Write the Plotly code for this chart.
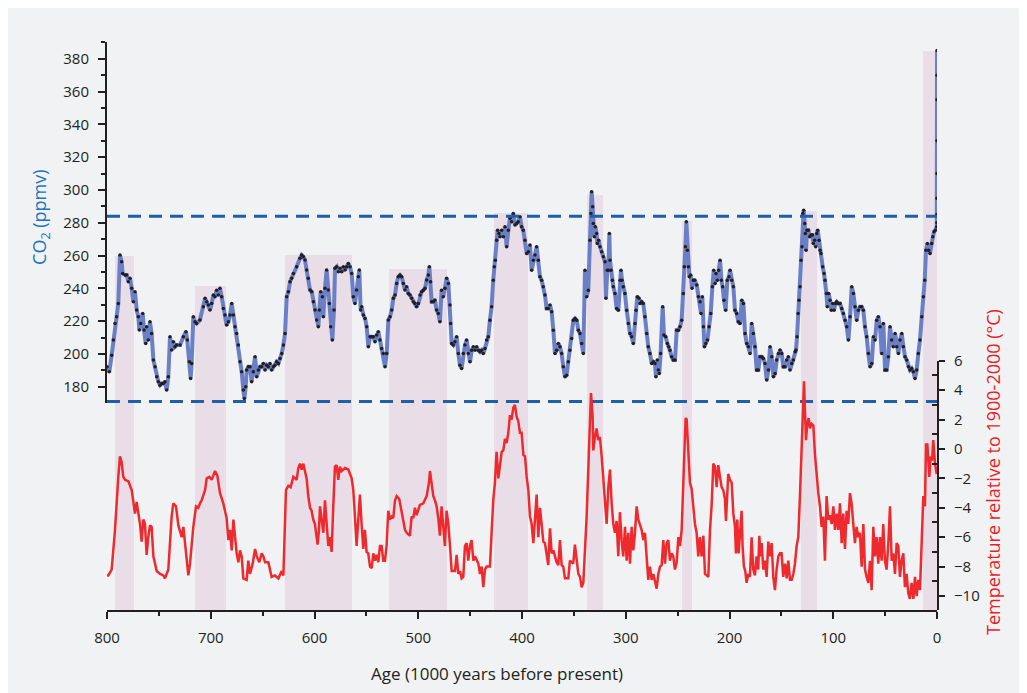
import plotly.graph_objects as go

# CO2 record (ppmv) against age (kyr before present)
co2_age = [800.0, 797.8, 795.5, 793.9, 792.3, 790.7, 789.1, 787.5, 785.9, 784.9, 782.6, 781.0, 779.4, 777.8, 776.2,
           774.6, 773.0, 771.4, 769.8, 768.8, 767.5, 765.6, 764.3, 762.7, 761.8, 760.2, 758.6, 757.0, 755.3, 753.7,
           752.1, 750.5, 748.9, 747.3, 745.7, 744.1, 742.5, 740.9, 739.3, 737.7, 736.1, 734.5, 732.9, 729.6, 726.4,
           723.9, 722.6, 720.6, 719.4, 718.4, 716.8, 715.2, 713.6, 710.4, 707.1, 705.5, 703.9, 702.3, 700.7, 699.1,
           697.5, 695.9, 694.3, 692.7, 691.1, 689.5, 687.9, 686.3, 684.7, 683.0, 681.4, 679.8, 678.2, 676.6, 675.0,
           673.4, 671.8, 670.2, 668.6, 667.6, 666.3, 665.4, 663.8, 662.2, 660.6, 659.0, 657.3, 655.7, 654.1, 652.5,
           650.9, 649.3, 647.7, 646.1, 644.5, 642.9, 641.3, 639.7, 638.1, 636.5, 634.8, 633.2, 631.6, 630.0, 628.4,
           626.8, 625.2, 623.6, 622.0, 620.4, 617.2, 614.0, 612.4, 610.8, 609.2, 607.6, 606.0, 604.3, 602.7, 601.1,
           599.5, 597.9, 596.3, 595.3, 594.0, 592.4, 591.5, 589.9, 588.3, 586.7, 585.7, 584.4, 582.8, 581.2, 580.2,
           578.6, 577.0, 575.4, 573.8, 572.2, 570.6, 569.0, 567.4, 565.8, 564.2, 562.6, 561.0, 559.4, 557.7, 556.8,
           555.5, 554.5, 552.9, 551.3, 549.7, 548.1, 546.5, 544.9, 543.3, 541.7, 540.1, 538.5, 536.9, 535.3, 533.7,
           532.0, 530.4, 528.8, 527.2, 525.6, 524.0, 522.4, 520.8, 519.2, 517.6, 516.0, 514.4, 512.8, 511.2, 509.6,
           508.0, 506.4, 504.8, 503.2, 501.6, 499.9, 498.3, 496.7, 495.1, 493.5, 491.9, 490.3, 489.3, 488.1, 487.1,
           485.5, 483.9, 482.3, 480.7, 479.1, 477.5, 475.9, 474.2, 472.6, 471.0, 469.4, 468.8, 467.8, 466.2, 464.6,
           463.0, 461.4, 459.8, 458.2, 456.6, 455.0, 453.4, 451.8, 450.1, 448.5, 446.9, 445.3, 443.7, 442.1, 440.5,
           438.9, 437.3, 435.7, 434.1, 432.5, 430.9, 429.3, 427.7, 426.7, 425.7, 424.4, 423.5, 422.2, 421.2, 419.6,
           418.0, 416.4, 414.8, 413.2, 411.6, 410.0, 408.4, 406.8, 405.2, 403.6, 402.0, 400.4, 398.8, 397.1, 395.5,
           393.9, 392.3, 390.7, 389.1, 387.5, 385.9, 384.3, 382.7, 381.1, 379.5, 377.9, 376.3, 374.6, 373.0, 371.4,
           369.8, 368.2, 366.6, 365.0, 363.4, 361.8, 360.2, 358.6, 357.0, 355.4, 353.8, 352.1, 350.5, 348.9, 347.3,
           345.7, 344.1, 342.5, 340.9, 339.3, 337.7, 336.1, 334.5, 333.5, 332.9, 331.9, 331.3, 330.3, 329.3, 328.1,
           327.4, 326.1, 324.8, 323.2, 321.6, 320.0, 319.1, 317.8, 316.8, 315.8, 315.2, 314.2, 312.9, 312.0, 310.4,
           308.8, 307.1, 305.5, 304.6, 303.6, 302.4, 300.8, 299.1, 297.5, 295.9, 294.3, 292.7, 291.1, 290.1, 288.9,
           287.3, 286.3, 284.7, 283.1, 281.5, 279.9, 278.3, 276.7, 275.0, 273.4, 271.8, 270.9, 269.6, 268.6, 267.7,
           266.4, 264.4, 263.2, 261.5, 259.9, 258.6, 257.4, 255.8, 254.2, 252.5, 250.9, 249.3, 247.7, 246.1, 244.5,
           243.5, 242.5, 241.6, 240.6, 239.6, 238.7, 237.4, 236.1, 234.8, 233.5, 231.6, 230.0, 228.4, 227.4, 226.2,
           225.2, 224.2, 222.9, 221.3, 219.7, 218.1, 216.5, 215.2, 213.9, 213.0, 211.7, 210.4, 209.1, 207.8, 206.6,
           205.3, 203.7, 202.1, 200.5, 199.5, 197.9, 196.3, 194.7, 193.1, 191.5, 189.8, 188.2, 186.6, 185.0, 183.4,
           181.8, 180.2, 178.6, 177.0, 175.4, 173.8, 172.2, 170.6, 168.9, 167.4, 165.8, 164.1, 162.5, 160.9, 159.3,
           157.7, 156.1, 154.5, 152.9, 151.3, 149.7, 148.1, 146.5, 144.9, 143.3, 141.7, 140.0, 138.4, 136.8, 135.9,
           134.9, 133.9, 133.0, 132.0, 131.0, 130.1, 129.4, 128.5, 127.5, 126.9, 126.2, 125.3, 124.0, 122.7, 121.4,
           120.1, 119.2, 117.9, 116.9, 115.9, 115.0, 113.7, 112.7, 111.8, 110.2, 108.9, 107.9, 106.6, 105.7, 104.4,
           103.1, 101.8, 100.5, 99.2, 97.9, 96.7, 95.1, 93.5, 91.9, 90.2, 88.6, 87.0, 85.4, 83.8, 82.2,
           80.6, 79.0, 77.4, 75.8, 74.2, 72.6, 71.0, 69.4, 67.8, 66.2, 64.5, 62.9, 61.3, 59.7, 58.1,
           56.5, 54.9, 53.3, 51.7, 50.1, 48.5, 46.9, 45.3, 43.7, 42.1, 40.4, 38.8, 37.2, 35.6, 34.0,
           32.4, 30.8, 29.2, 27.6, 26.0, 24.4, 22.8, 21.2, 19.6, 18.0, 16.4, 14.7, 13.1, 11.8, 10.6,
           9.3, 8.0, 6.7, 5.1, 4.1, 2.9, 1.6, 0.3, 0.2, 0.15, 0.1, 0.07, 0.05, 0.03, 0.0, -0.05]
co2_ppmv = [192.2, 189.1, 199.3, 208.5, 218.6, 222.7, 230.8, 260.3, 256.2, 249.1, 248.1, 248.1, 244.0, 246.1, 240.0,
            231.8, 237.9, 226.8, 222.7, 214.6, 218.6, 224.7, 214.6, 206.4, 216.6, 208.5, 219.6, 212.5, 196.3, 192.2,
            186.1, 183.1, 181.0, 182.0, 182.0, 183.1, 178.0, 186.1, 210.5, 202.4, 207.5, 204.4, 205.4, 205.4, 210.5,
            213.6, 208.5, 195.3, 185.1, 194.2, 222.7, 219.6, 218.6, 220.7, 228.8, 233.9, 231.8, 229.8, 226.8, 230.8,
            235.9, 234.9, 238.9, 235.9, 240.0, 234.9, 227.8, 223.7, 217.6, 219.6, 223.7, 230.8, 223.7, 216.6, 212.5,
            205.4, 195.3, 189.2, 178.0, 172.9, 180.0, 190.2, 192.2, 192.2, 183.1, 189.2, 198.3, 186.1, 190.2, 192.2,
            192.2, 194.2, 190.2, 193.2, 192.2, 194.2, 190.2, 192.2, 193.2, 195.3, 194.2, 197.3, 200.3, 205.4, 212.5,
            234.9, 237.9, 244.0, 246.1, 249.1, 253.2, 258.3, 260.3, 259.3, 257.3, 251.2, 246.1, 239.0, 237.9, 231.8,
            226.8, 220.7, 216.6, 226.8, 237.9, 234.9, 222.7, 240.0, 251.2, 239.0, 230.8, 216.6, 208.5, 226.8, 252.2,
            253.2, 250.1, 252.2, 250.1, 253.2, 251.2, 253.2, 255.2, 253.2, 249.1, 234.9, 230.8, 239.0, 247.1, 251.2,
            226.8, 228.8, 223.7, 221.7, 216.6, 204.4, 210.5, 210.5, 210.5, 207.5, 211.5, 213.6, 208.5, 203.4, 200.3,
            192.2, 200.3, 220.7, 222.7, 226.8, 233.9, 235.9, 243.0, 247.1, 248.1, 247.1, 243.0, 239.0, 241.0, 236.9,
            235.9, 233.9, 231.8, 230.8, 228.8, 230.8, 235.9, 237.9, 238.9, 240.0, 245.1, 248.1, 253.2, 244.0, 231.8,
            231.8, 232.9, 226.8, 224.7, 219.6, 238.9, 234.9, 240.0, 246.1, 243.0, 229.8, 218.6, 206.4, 205.4, 207.4,
            210.5, 200.3, 193.2, 191.2, 200.3, 205.4, 208.5, 200.3, 195.2, 202.3, 204.4, 202.3, 204.4, 202.3, 201.3,
            202.3, 200.3, 203.4, 208.5, 210.5, 220.6, 228.8, 245.0, 253.2, 257.2, 269.4, 275.5, 273.5, 271.5, 275.5,
            271.5, 277.6, 265.4, 275.5, 282.7, 280.6, 285.7, 278.6, 279.6, 280.6, 283.7, 277.6, 275.5, 269.4, 261.3,
            262.3, 266.4, 251.1, 257.2, 260.3, 265.4, 257.2, 247.1, 245.0, 241.0, 235.9, 227.8, 227.8, 229.8, 225.7,
            214.5, 200.3, 202.3, 206.4, 204.4, 200.3, 192.2, 186.1, 187.1, 195.2, 202.3, 209.5, 220.6, 221.7, 220.6,
            214.5, 212.5, 206.4, 200.3, 251.1, 234.9, 238.9, 269.4, 285.7, 298.9, 289.8, 279.6, 271.5, 277.6, 273.5,
            267.4, 269.4, 265.4, 262.3, 259.3, 256.2, 233.9, 251.1, 251.1, 273.5, 257.2, 251.1, 245.0, 241.0, 236.9,
            227.8, 226.7, 245.0, 251.1, 245.0, 241.0, 236.9, 226.7, 218.6, 212.5, 210.5, 206.4, 218.6, 226.7, 234.9,
            233.9, 230.8, 231.8, 230.8, 222.7, 212.5, 204.4, 200.3, 194.2, 195.2, 194.2, 186.1, 196.3, 190.2, 188.1,
            200.3, 228.8, 211.5, 210.5, 206.4, 204.4, 202.3, 198.3, 196.3, 196.3, 214.5, 214.5, 216.6, 220.6, 236.9,
            253.2, 265.4, 280.6, 263.3, 253.2, 247.1, 248.1, 240.0, 245.0, 245.0, 242.0, 234.9, 231.8, 224.7, 234.9,
            216.6, 204.4, 206.4, 208.5, 216.6, 224.7, 241.0, 251.1, 243.0, 249.1, 245.0, 251.1, 257.2, 245.0, 241.0,
            232.8, 226.7, 245.0, 247.1, 251.1, 245.0, 241.0, 226.7, 224.7, 219.6, 218.6, 232.8, 230.8, 212.5, 206.4,
            204.4, 200.3, 218.6, 212.5, 204.4, 190.2, 190.2, 198.3, 198.3, 197.3, 194.2, 184.1, 190.2, 204.4, 198.3,
            186.1, 188.1, 196.3, 200.3, 202.4, 200.3, 192.2, 192.2, 196.3, 198.3, 190.2, 194.2, 196.3, 201.3, 202.4,
            210.5, 224.7, 232.8, 241.0, 257.2, 265.4, 285.7, 287.7, 279.6, 273.5, 263.3, 275.5, 275.5, 271.5, 272.5,
            272.5, 267.4, 269.4, 265.4, 273.5, 275.5, 269.4, 263.3, 261.3, 253.2, 249.1, 245.0, 236.9, 228.8, 236.9,
            232.8, 226.7, 230.8, 226.7, 230.8, 231.8, 230.8, 230.8, 227.8, 224.7, 220.6, 216.6, 208.5, 222.7, 241.0,
            236.9, 228.8, 220.6, 226.7, 228.8, 228.8, 226.7, 216.6, 210.5, 200.3, 192.2, 194.2, 210.5, 208.5, 220.6,
            222.7, 216.6, 200.3, 218.6, 190.2, 190.2, 198.3, 216.6, 208.5, 204.4, 212.5, 204.4, 200.3, 208.5, 212.5,
            204.4, 198.3, 196.3, 192.2, 190.2, 191.2, 189.1, 185.1, 190.2, 200.3, 208.5, 222.7, 234.9, 245.0, 263.3,
            267.4, 263.3, 261.3, 267.4, 271.5, 274.5, 275.5, 277.6, 280.0, 285.0, 295.0, 310.0, 330.0, 355.0, 370.0, 385.0]

# temperature anomaly (degC, relative to 1900-2000)
temp_age = [800.0, 798.7, 795.5, 792.3, 789.1, 787.5, 785.9, 784.3, 782.6, 779.4, 776.2, 774.6, 773.0, 771.4, 769.8,
            768.2, 766.6, 765.0, 763.4, 761.8, 760.2, 758.6, 757.0, 755.3, 752.1, 748.9, 745.7, 744.1, 740.9, 739.3,
            737.7, 736.1, 733.5, 731.2, 728.0, 726.4, 723.9, 721.6, 720.0, 718.4, 716.8, 714.2, 712.0, 710.4, 708.8,
            705.5, 703.9, 701.4, 699.1, 695.9, 693.7, 691.1, 687.9, 684.7, 683.0, 681.4, 679.8, 678.2, 676.6, 675.0,
            673.4, 671.8, 670.2, 668.6, 665.4, 663.8, 662.2, 659.6, 657.3, 655.7, 653.2, 650.9, 649.3, 647.7, 644.5,
            641.3, 638.1, 634.8, 631.6, 630.0, 627.5, 625.2, 623.0, 620.4, 617.2, 615.6, 614.0, 612.4, 610.8, 609.2,
            607.6, 606.0, 604.3, 602.8, 601.2, 599.6, 597.0, 595.7, 594.7, 593.1, 591.5, 589.9, 588.3, 586.7, 585.1,
            583.5, 581.9, 580.3, 578.7, 577.1, 575.5, 573.9, 570.6, 567.4, 564.2, 562.6, 561.0, 559.4, 557.8, 556.2,
            554.6, 553.0, 551.4, 549.8, 548.2, 546.5, 544.9, 543.3, 541.7, 540.1, 538.5, 536.9, 535.3, 533.7, 532.1,
            530.5, 528.9, 527.3, 525.7, 524.1, 522.4, 520.8, 518.3, 516.0, 514.4, 512.8, 511.2, 508.0, 506.4, 504.8,
            503.2, 501.6, 498.4, 495.1, 491.9, 489.7, 488.7, 487.1, 485.5, 483.9, 482.3, 480.7, 479.1, 477.5, 475.9,
            474.3, 472.7, 471.0, 469.4, 467.8, 464.6, 463.0, 461.4, 459.8, 458.2, 456.6, 455.0, 453.4, 451.8, 450.2,
            448.6, 446.9, 445.3, 443.7, 442.1, 440.5, 438.9, 437.3, 435.7, 434.1, 430.9, 429.3, 427.7, 426.1, 424.5,
            422.8, 421.2, 419.6, 418.0, 416.4, 414.8, 413.2, 411.6, 410.0, 408.4, 406.8, 405.2, 403.6, 402.0, 400.4,
            398.7, 397.1, 395.5, 393.9, 392.3, 390.7, 389.1, 387.5, 385.9, 384.3, 382.7, 381.1, 379.5, 377.9, 376.3,
            374.7, 373.0, 371.4, 369.8, 368.2, 366.6, 365.0, 363.4, 361.8, 360.2, 358.6, 355.4, 353.8, 352.2, 350.6,
            349.0, 347.3, 345.7, 344.1, 342.5, 340.9, 339.3, 337.7, 336.1, 334.5, 333.5, 331.9, 331.3, 329.7, 328.1,
            326.5, 324.9, 323.2, 321.6, 320.0, 318.4, 316.8, 315.2, 313.6, 312.0, 310.4, 308.8, 307.2, 305.6, 304.0,
            302.4, 300.7, 299.1, 297.5, 295.9, 294.3, 292.7, 291.1, 289.5, 287.9, 286.3, 284.7, 283.1, 281.5, 279.9,
            278.3, 276.7, 275.0, 273.4, 271.8, 270.2, 268.6, 267.0, 265.4, 263.8, 262.2, 260.6, 259.0, 257.4, 255.8,
            254.2, 252.6, 250.9, 249.3, 247.7, 246.1, 244.5, 242.3, 241.3, 239.7, 238.1, 236.5, 234.9, 233.3, 231.7,
            230.1, 228.5, 226.9, 225.2, 223.6, 222.0, 220.4, 218.8, 217.2, 215.6, 214.0, 212.4, 210.8, 209.2, 207.6,
            206.0, 204.4, 203.4, 202.1, 201.2, 199.6, 197.9, 196.3, 194.7, 193.8, 192.5, 191.2, 189.9, 188.3, 187.4,
            186.1, 184.8, 183.5, 181.9, 180.3, 178.7, 177.1, 175.5, 173.9, 172.3, 171.3, 170.0, 169.0, 167.4, 165.8,
            164.2, 162.6, 161.0, 159.4, 157.8, 156.2, 154.6, 152.9, 151.4, 149.8, 148.2, 146.5, 144.9, 143.3, 141.7,
            140.1, 138.5, 136.9, 135.3, 133.7, 132.1, 130.5, 128.9, 128.2, 126.3, 125.0, 123.7, 122.4, 120.8, 119.2,
            117.6, 116.0, 114.4, 112.8, 111.2, 109.6, 108.0, 106.4, 104.8, 103.2, 101.5, 99.9, 98.3, 96.7, 95.1,
            93.5, 91.9, 90.3, 88.7, 87.1, 85.5, 83.9, 82.3, 80.7, 79.1, 77.5, 75.9, 74.3, 72.6, 71.0,
            69.4, 67.8, 66.2, 64.6, 63.0, 61.4, 59.8, 58.2, 56.6, 55.0, 53.4, 51.8, 50.2, 48.6, 46.9,
            45.3, 43.7, 42.1, 40.5, 38.9, 37.3, 35.7, 34.1, 32.5, 30.9, 29.3, 27.7, 26.1, 24.5, 22.8,
            21.2, 19.6, 18.0, 16.4, 14.8, 13.2, 11.6, 10.6, 9.3, 8.4, 7.4, 6.1, 4.8, 3.6, 1.9, 0.3]
temp_anom = [-8.6, -8.6, -8.2, -5.5, -1.9, -0.5, -0.9, -1.9, -2.1, -2.2, -2.8, -3.5, -4.4, -3.6, -4.4,
             -5.1, -6.3, -4.8, -5.1, -7.2, -6.0, -5.2, -5.3, -7.3, -8.3, -8.5, -8.6, -8.8, -8.2, -6.2,
             -4.6, -3.7, -3.9, -5.2, -6.0, -5.3, -6.9, -8.6, -7.8, -6.4, -5.3, -3.9, -4.0, -3.7, -3.5,
             -2.8, -2.0, -1.9, -2.1, -1.5, -1.8, -3.0, -3.7, -4.7, -6.2, -5.5, -6.9, -4.8, -6.0, -7.1,
             -7.7, -6.9, -7.3, -8.8, -8.9, -7.6, -8.5, -7.8, -6.8, -7.3, -7.7, -7.1, -7.3, -7.7, -7.7,
             -8.7, -8.6, -8.8, -8.3, -8.6, -2.8, -2.5, -2.6, -1.9, -2.1, -1.3, -1.0, -1.4, -1.0, -1.5,
             -2.0, -3.2, -4.0, -4.2, -4.8, -5.1, -6.5, -5.5, -3.9, -4.8, -5.7, -3.5, -5.1, -6.6, -6.0,
             -7.0, -3.9, -1.2, -1.1, -2.1, -1.2, -1.5, -1.3, -1.4, -2.0, -2.8, -4.6, -6.6, -4.8, -3.1,
             -5.1, -6.8, -5.5, -7.0, -7.1, -8.0, -8.1, -7.1, -7.6, -7.2, -7.7, -6.6, -6.6, -7.6, -7.6,
             -6.6, -4.2, -4.8, -4.6, -4.7, -3.5, -3.2, -3.4, -4.4, -4.9, -5.5, -5.7, -5.9, -4.6, -4.7,
             -4.0, -4.5, -3.8, -3.7, -3.2, -2.3, -1.5, -2.3, -3.2, -3.5, -3.9, -4.7, -5.9, -3.9, -5.1,
             -6.6, -4.2, -5.1, -6.6, -8.3, -8.3, -7.2, -8.5, -8.3, -8.8, -8.7, -6.6, -6.4, -7.6, -6.6,
             -6.2, -7.6, -7.3, -7.6, -7.8, -8.5, -8.0, -9.4, -8.2, -8.0, -8.0, -5.7, -3.5, -2.3, -0.2,
             -2.0, -1.0, -0.2, -0.1, 0.7, 0.4, 1.1, 2.3, 2.0, 2.8, 3.0, 2.2, 1.9, 1.1, 1.1,
             -0.4, -0.5, -1.9, -2.8, -4.6, -5.1, -6.4, -4.6, -3.1, -6.0, -4.0, -5.1, -6.3, -6.4, -7.1,
             -7.9, -5.4, -7.1, -6.9, -7.3, -7.7, -7.9, -6.2, -7.9, -8.0, -8.8, -8.8, -7.6, -7.7, -7.8,
             -6.5, -7.6, -8.5, -8.7, -9.4, -9.1, -6.9, -4.6, -1.4, 2.6, 3.8, 2.2, -0.1, 0.8, 1.4,
             0.6, 0.8, -0.5, -2.1, -3.2, -5.1, -2.6, -1.4, -3.7, -5.1, -5.7, -4.9, -7.3, -4.3, -6.2,
             -7.3, -5.3, -7.6, -5.7, -7.8, -5.3, -6.9, -5.7, -3.9, -4.8, -5.1, -5.5, -6.2, -5.7, -7.3,
             -8.9, -8.0, -8.9, -8.5, -9.1, -9.5, -8.5, -8.0, -7.9, -6.2, -7.8, -6.4, -6.2, -7.6, -7.1,
             -7.3, -8.2, -7.7, -6.0, -6.6, -5.5, -1.7, 2.1, 2.0, -0.1, -2.3, -2.7, -3.9, -5.1, -5.7,
             -7.3, -6.0, -7.3, -5.9, -8.5, -8.6, -8.7, -5.5, -3.8, -1.0, -1.2, -2.6, -1.1, -1.9, -2.6,
             -2.8, -3.4, -4.9, -2.8, -1.7, -2.1, -2.3, -4.4, -5.3, -7.1, -4.8, -7.1, -5.5, -4.2, -6.6,
             -8.0, -8.3, -9.1, -8.5, -8.7, -6.0, -8.2, -8.6, -7.3, -8.2, -5.9, -7.3, -6.4, -8.2, -7.6,
             -8.7, -6.3, -7.3, -6.4, -8.7, -9.6, -8.2, -7.3, -7.1, -7.1, -8.7, -7.8, -8.8, -7.6, -8.9,
             -8.9, -8.5, -7.8, -6.6, -6.0, -3.2, -0.1, 3.8, 4.6, 0.6, 1.7, 2.1, 1.4, 1.7, 1.6,
             -0.4, -1.9, -3.0, -3.9, -5.3, -4.6, -7.6, -3.2, -4.8, -4.5, -5.1, -3.9, -5.5, -4.4, -5.5,
             -3.7, -6.4, -4.4, -6.8, -4.2, -5.1, -3.0, -3.7, -5.1, -6.4, -5.3, -6.0, -5.7, -8.0, -5.1,
             -8.2, -8.7, -9.1, -7.6, -9.6, -5.3, -7.3, -6.0, -7.8, -6.0, -7.6, -5.1, -7.6, -8.2, -6.4,
             -3.9, -7.6, -7.1, -8.5, -6.4, -6.6, -8.7, -7.6, -7.1, -9.4, -8.5, -9.8, -10.2, -9.1, -10.2,
             -8.7, -10.0, -8.9, -9.6, -6.4, -3.2, -3.9, 0.3, 0.3, -0.5, -1.9, -0.5, -0.8, 0.6, -1.0, -1.7]

# shaded warm periods: start/end age and the CO2 level the shading reaches
warm_start = [792.3, 715.0, 628.4, 528.2, 427.0, 337.0, 245.8, 131.0, 13.5]
warm_end = [774.0, 685.0, 564.0, 472.3, 394.2, 322.2, 236.1, 115.7, 0.0]
warm_top = [259.7, 241.4, 260.3, 251.8, 285.7, 296.9, 281.0, 287.1, 384.7]

co2_preindustrial = 284
co2_lowest = 171

co2_ticks = [180, 200, 220, 240, 260, 280, 300, 320, 340, 360, 380]
temp_ticks = [-10, -8, -6, -4, -2, 0, 2, 4, 6]
age_ticks = [800, 700, 600, 500, 400, 300, 200, 100, 0]

# axis ranges (the shading axis uses CO2 units down to the time axis)
co2_range = [170.1, 390.2]
shade_floor = 43.8
temp_range = [-10.95, 6]

ink = '#231f20'
blue_dash = '#1f5fa8'
panel = '#f1f2f4'
font = 'Open Sans'

fig = go.Figure()

# shaded interglacials
fig.add_trace(go.Bar(
    x=[(s + e) / 2 for s, e in zip(warm_start, warm_end)],
    width=[s - e for s, e in zip(warm_start, warm_end)],
    y=[t - shade_floor for t in warm_top],
    base=shade_floor,
    marker=dict(color='#e9dee7', line=dict(width=0)),
    yaxis='y', hoverinfo='skip', showlegend=False,
))

# CO2 line with black sample dots
fig.add_trace(go.Scatter(
    x=co2_age, y=co2_ppmv, yaxis='y2', mode='lines+markers',
    line=dict(color='#6a7fc6', width=4),
    marker=dict(color=ink, size=3.5),
    showlegend=False,
))

# dashed reference levels
for level in [co2_preindustrial, co2_lowest]:
    fig.add_trace(go.Scatter(
        x=[800, 0], y=[level, level], yaxis='y2', mode='lines',
        line=dict(color=blue_dash, width=3, dash='13px,8px'),
        showlegend=False, hoverinfo='skip',
    ))

# temperature
fig.add_trace(go.Scatter(
    x=temp_age, y=temp_anom, yaxis='y3', mode='lines',
    line=dict(color='#ee2a2e', width=2.5),
    showlegend=False,
))

tickfont = dict(family=font, size=15, color=ink)

# the page adds an 8px body margin, so margins are 8px smaller than the picture offsets
fig.update_layout(
    width=1027, height=693,
    template='none',
    margin=dict(l=99, r=98, t=34, b=91),
    paper_bgcolor=panel,
    plot_bgcolor='rgba(0,0,0,0)',
    bargap=0,
    xaxis=dict(
        range=[800, 0], domain=[0, 1], anchor='y',
        showline=True, linecolor=ink, linewidth=2,
        ticks='outside', tickvals=age_ticks, ticklen=7, tickwidth=2, tickcolor=ink,
        minor=dict(tickvals=[750, 650, 550, 450, 350, 250, 150, 50], ticks='outside',
                   ticklen=4, tickwidth=1.5, tickcolor=ink),
        showgrid=False, zeroline=False, tickfont=tickfont, ticklabelstandoff=6,
    ),
    yaxis=dict(
        range=[shade_floor, co2_range[1]], domain=[0, 1], visible=False, fixedrange=True,
    ),
    yaxis2=dict(
        range=co2_range, domain=[0.3644, 1], anchor='x', side='left',
        showline=True, linecolor=ink, linewidth=2,
        ticks='outside', tickvals=co2_ticks, ticklen=7, tickwidth=2, tickcolor=ink,
        minor=dict(tickvals=list(range(170, 391, 10)), ticks='outside',
                   ticklen=4, tickwidth=1.5, tickcolor=ink),
        showgrid=False, zeroline=False, tickfont=tickfont, ticklabelstandoff=6,
    ),
    yaxis3=dict(
        range=temp_range, domain=[0, 0.4389], anchor='x', side='right',
        showline=True, linecolor=ink, linewidth=2,
        ticks='outside', tickvals=temp_ticks, ticklen=6, tickwidth=2, tickcolor=ink,
        minor=dict(tickvals=[-11, -9, -7, -5, -3, -1, 1, 3, 5], ticks='inside',
                   ticklen=5, tickwidth=1.5, tickcolor=ink),
        showgrid=False, zeroline=False, tickfont=tickfont, ticklabelstandoff=6,
    ),
)

# axis titles
fig.add_annotation(text='CO<sub>2</sub> (ppmv)', xref='paper', yref='paper',
                   x=-0.0795, y=0.692, xanchor='center', yanchor='middle',
                   textangle=-90, showarrow=False,
                   font=dict(family=font, size=18, color='#1c75bc'))
fig.add_annotation(text='Temperature relative to 1900-2000 (°C)', xref='paper', yref='paper',
                   x=1.0675, y=0.243, xanchor='center', yanchor='middle',
                   textangle=-90, showarrow=False,
                   font=dict(family=font, size=18, color='#ed1c24'))
fig.add_annotation(text='Age (1000 years before present)', xref='paper', yref='paper',
                   x=0.47, y=-0.111, xanchor='center', yanchor='middle', showarrow=False,
                   font=dict(family=font, size=17, color=ink))

fig.write_html("out.html")
